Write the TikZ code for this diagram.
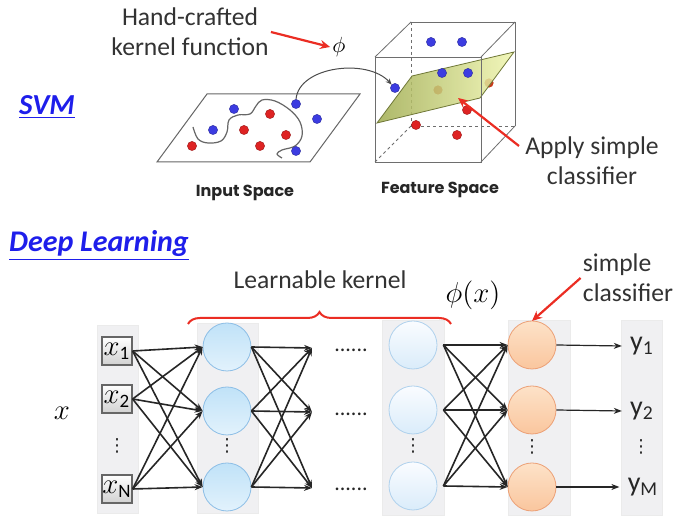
\documentclass[tikz,border=0pt]{standalone}
\usepackage{fontspec}
\setmainfont{Carlito}
\newfontfamily\gothic{Poppins}
\newfontfamily\djv{DejaVu Sans}
\usetikzlibrary{arrows.meta,decorations.pathreplacing,shadings}
\definecolor{svmblue}{RGB}{30,30,235}
\definecolor{dotblue}{RGB}{60,60,225}
\definecolor{dotred}{RGB}{222,35,35}
\definecolor{colbg}{RGB}{240,240,242}
\definecolor{cbtop}{RGB}{192,226,248}
\definecolor{cbbot}{RGB}{226,242,252}
\definecolor{cbord}{RGB}{140,190,230}
\definecolor{pbtop}{RGB}{250,252,255}
\definecolor{pbbot}{RGB}{218,236,250}
\definecolor{ortop}{RGB}{253,226,200}
\definecolor{orbot}{RGB}{250,198,158}
\definecolor{orbord}{RGB}{236,160,118}
\definecolor{redarr}{RGB}{235,45,35}
\definecolor{cubeline}{RGB}{110,110,110}
\definecolor{planedark}{RGB}{160,172,80}
\definecolor{planelight}{RGB}{240,246,175}
\begin{document}
\begin{tikzpicture}[x=0.5pt,y=-0.5pt,
  bdot/.style={circle,inner sep=0,minimum size=4.6pt,fill=dotblue,draw=dotblue!70!black,line width=0.2pt},
  rdot/.style={circle,inner sep=0,minimum size=4.6pt,fill=dotred,draw=dotred!70!black,line width=0.2pt},
  fadedot/.style={circle,inner sep=0,minimum size=4.6pt,fill=dotred!75!olive,draw=none},
  redarrow/.style={draw=redarr,line width=1.1pt,-{Stealth[length=5pt,width=4.5pt]}},
  net/.style={draw=black!85,line width=0.8pt,-{Stealth[length=4pt,width=3pt]}},
  colbox/.style={fill=colbg,draw=black!8,line width=0.4pt},
  inbox/.style={draw=black!60,line width=0.6pt,top color=white,bottom color=black!18,minimum width=15pt,minimum height=14pt,inner sep=0pt},
  bcirc/.style={circle,minimum size=24pt,inner sep=0,draw=cbord,line width=0.4pt,top color=cbtop,bottom color=cbbot},
  pcirc/.style={circle,minimum size=24pt,inner sep=0,draw=cbord!70,line width=0.4pt,top color=pbtop,bottom color=pbbot},
  ocirc/.style={circle,minimum size=24pt,inner sep=0,draw=orbord,line width=0.4pt,top color=ortop,bottom color=orbot},
  cubesolid/.style={draw=cubeline,line width=0.4pt},
  cubedash/.style={draw=cubeline,line width=0.4pt,dash pattern=on 1.5pt off 1.5pt},
  lbl/.style={font=\fontsize{12.8}{15}\selectfont,text=black!80,align=center,inner sep=1pt},
  title/.style={font=\fontsize{14.5}{16}\selectfont\bfseries\itshape,text=svmblue,inner sep=1pt},
  space/.style={font=\gothic\fontsize{8}{10}\selectfont\bfseries,text=black!85},
  ylbl/.style={font=\fontsize{14}{15}\selectfont,text=black!85,inner sep=1pt},
  hdots/.style={font=\fontsize{11}{12}\selectfont,text=black!85,inner sep=0pt},
  vdot/.style={font=\djv\fontsize{9}{10}\selectfont,text=black!85,inner sep=0pt}
]
\useasboundingbox (0,0) rectangle (686,522);
\fill[white] (0,0) rectangle (686,522);

% ---------------- SVM part ----------------
\node[title] (svm) at (47,107) {\underline{SVM}};
\node[lbl] (hk) at (190,32) {Hand-crafted\\kernel function};
\node[inner sep=1pt,font=\fontsize{10.5}{12}\selectfont] (phi1) at (339,47) {$\phi$};
\draw[redarrow] (hk.east) -- (phi1.west);

% input space plane
\draw[cubesolid,draw=black!60,line width=0.5pt] (157,162) -- (310,162) -- (360,94) -- (207,94) -- cycle;
\draw[black!60,line width=0.6pt] plot[smooth,tension=0.6] coordinates {(193,127) (198,139) (208,143) (221,141) (227,132) (229,120) (238,115) (250,114) (256,106) (262,100) (275,101) (290,110) (300,122) (302,136) (295,146) (282,150) (277,154) (282,158)};
\node[bdot] (ib1) at (234,109) {};
\node[bdot] (ib2) at (296,104) {};
\node[bdot] (ib3) at (317,119) {};
\node[bdot] (ib4) at (213,130) {};
\node[bdot] (ib5) at (296,151) {};
\node[rdot] (ir1) at (270,114) {};
\node[rdot] (ir2) at (244,130) {};
\node[rdot] (ir3) at (286,135) {};
\node[rdot] (ir4) at (192,146) {};
\node[rdot] (ir5) at (260,146) {};
\node[space] (inlbl) at (245,193) {Input Space};

% feature space cube
\draw[cubedash] (411,22) -- (411,126) -- (515,126);
\draw[cubedash] (411,126) -- (375,162);
\draw[cubesolid] (411,22) -- (515,22) -- (515,126);
\node[fadedot] (fr1) at (438,90) {};
\node[fadedot] (fr2) at (489,83) {};
\node[rdot] (fr3) at (467,110) {};
\node[rdot] (fr4) at (416,125) {};
\node[rdot] (fr5) at (457,135) {};
\node[bdot] (fb1) at (431,42) {};
\node[bdot] (fb2) at (462,42) {};
\shade[left color=planedark,right color=planelight,fill opacity=0.85,draw=planedark!70!black,line width=0.4pt]
  (377,123) -- (412,76) -- (514,52) -- (480,98) -- cycle;
\draw[cubesolid] (375,57) rectangle (481,162);
\draw[cubesolid] (375,57) -- (411,22);
\draw[cubesolid] (481,57) -- (515,22);
\draw[cubesolid] (481,162) -- (515,126);
\node[bdot] (fb3) at (442,73) {};
\node[bdot] (fb4) at (468,73) {};
\node[bdot] (fb5) at (395,88) {};
\draw[black!70,line width=0.5pt,-{Stealth[length=3pt,width=2.5pt]}] (ib2.north) .. controls (299,66) and (368,58) .. (fb5.north west);
\coordinate (planept) at (458,98);
\node[lbl] (app) at (592,161) {Apply simple\\classifier};
\coordinate (appstart) at (519,146);
\draw[redarrow] (appstart) -- (planept);
\node[space] (ftlbl) at (440,190) {Feature Space};

% ---------------- Deep learning part ----------------
\node[title,font=\fontsize{15}{17}\selectfont\bfseries\itshape] (dl) at (99,246) {\underline{Deep Learning}};

\fill[colbox] (97,325) rectangle (138,513);
\fill[colbox] (197,323) rectangle (258,513);
\fill[colbox] (382,320) rectangle (444,515);
\fill[colbox] (508,320) rectangle (570,515);
\fill[colbox] (621,320) rectangle (662,515);

\node[lbl] (lk) at (320,280) {Learnable kernel};
\draw[draw=redarr,line width=1pt,decorate,decoration={brace,amplitude=6pt,raise=0pt}] (188,324) -- (451,324);
\node[font=\fontsize{15}{17}\selectfont,inner sep=1pt] (phix) at (473,295) {$\phi(x)$};
\node[lbl,align=left] (sc) at (628,278) {simple\\classifier};
\draw[redarrow] (sc.west) -- (532,321);

\node[font=\fontsize{15}{16}\selectfont,inner sep=1pt] (xin) at (62,413) {$x$};

\node[inbox,font=\fontsize{13.5}{14}\selectfont] (x1) at (117,351) {$x_{\mathrm{1}}$};
\node[inbox,font=\fontsize{13.5}{14}\selectfont] (x2) at (117,399) {$x_{\mathrm{2}}$};
\node[inbox,font=\fontsize{13.5}{14}\selectfont] (xN) at (117,489) {$x_{\mathrm{N}}$};
\node[vdot] (vd1) at (117,446) {⋮};

\node[bcirc] (h1) at (227,347) {};
\node[bcirc] (h2) at (227,411) {};
\node[bcirc] (h3) at (227,487) {};
\node[vdot] (vd2) at (227,446) {⋮};

\coordinate (d1) at (312,348);
\coordinate (d2) at (312,412);
\coordinate (d3) at (312,488);
\node[hdots] (t1) at (351,350) {......};
\node[hdots] (t2) at (351,414) {......};
\node[hdots] (t3) at (351,489) {......};

\node[pcirc] (g1) at (413,345) {};
\node[pcirc] (g2) at (413,410) {};
\node[pcirc] (g3) at (413,486) {};
\node[vdot] (vd3) at (413,446) {⋮};

\node[ocirc] (o1) at (532,345) {};
\node[ocirc] (o2) at (532,410) {};
\node[ocirc] (o3) at (532,487) {};
\node[vdot] (vd4) at (532,447) {⋮};

\node[ylbl] (y1) at (642,346) {y\textsubscript{1}};
\node[ylbl] (y2) at (642,411) {y\textsubscript{2}};
\node[ylbl] (yM) at (643,487) {y\textsubscript{M}};
\node[vdot] (vd5) at (641,447) {⋮};

\foreach \a in {x1,x2,xN}
  \foreach \b in {h1,h2,h3}
    \draw[net] (\a.east) -- (\b.west);
\foreach \a in {h1,h2,h3}
  \foreach \b in {d1,d2,d3}
    \draw[net] (\a.east) -- (\b);
\foreach \a in {g1,g2,g3}
  \foreach \b in {o1,o2,o3}
    \draw[net] ([xshift=3pt]\a.east) -- (\b.west);
\draw[net,line width=0.6pt] (o1.east) -- ([xshift=-3pt]y1.west);
\draw[net,line width=0.6pt] (o2.east) -- ([xshift=-3pt]y2.west);
\draw[net,line width=0.6pt] (o3.east) -- ([xshift=-3pt]yM.west);
\end{tikzpicture}
\end{document}
